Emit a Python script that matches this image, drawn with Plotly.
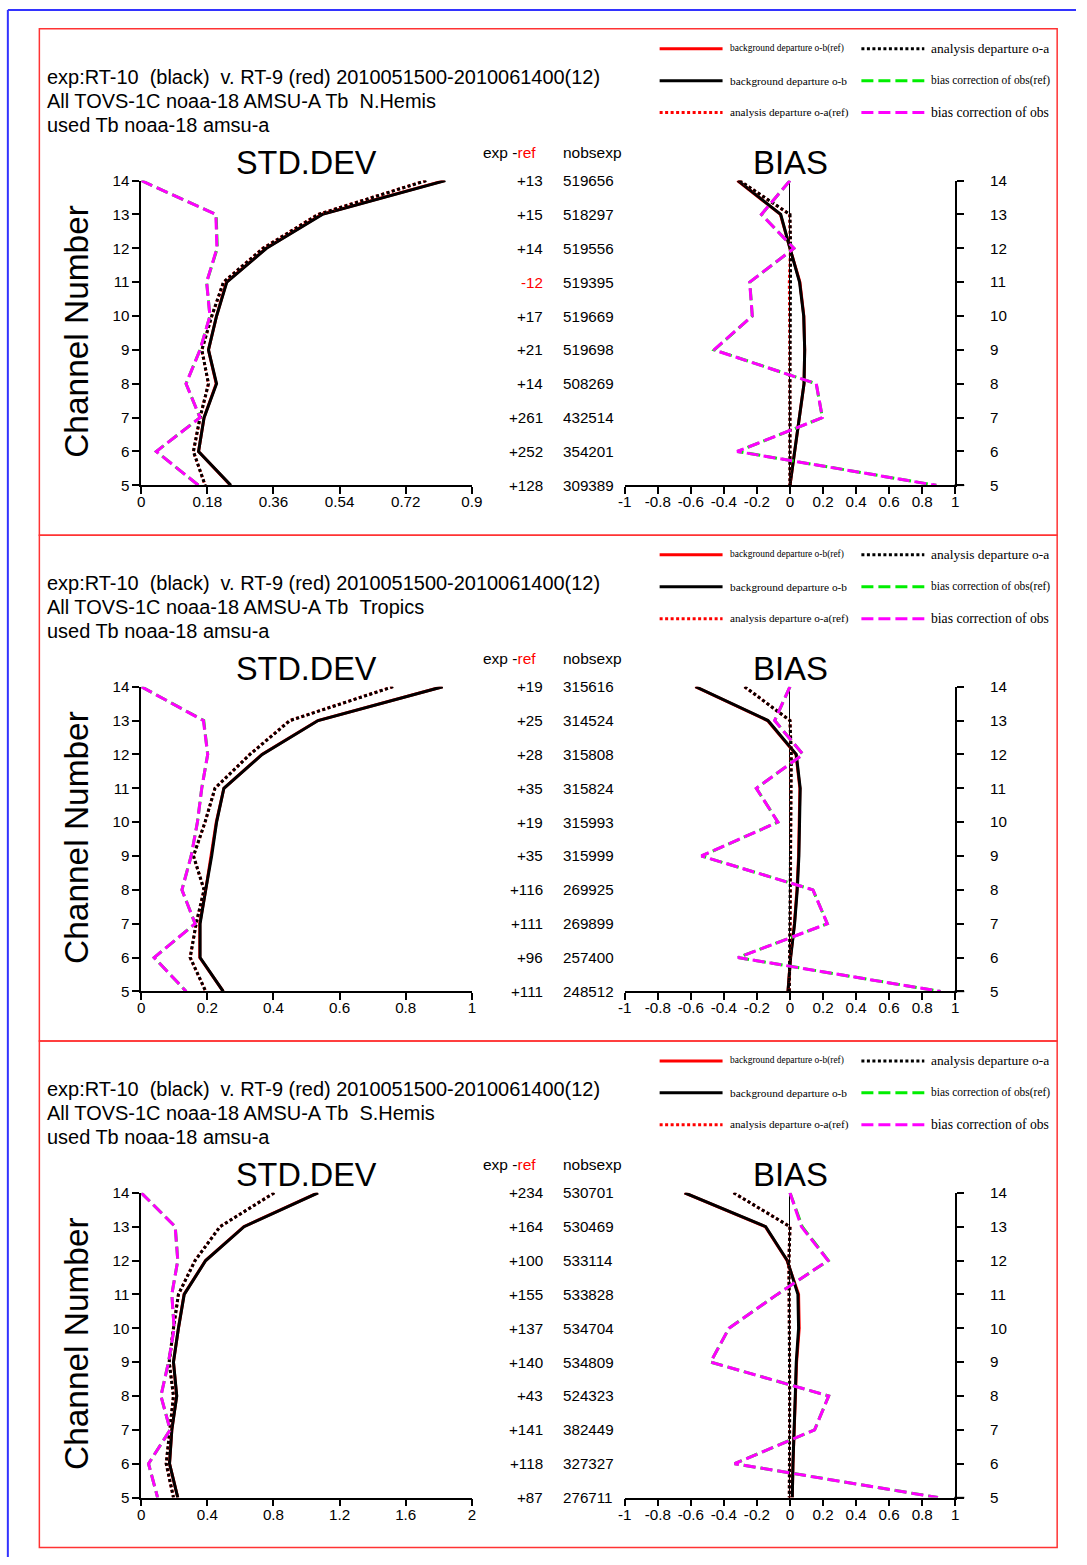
import plotly.graph_objects as go

# ---------------- data ----------------
channels = [14, 13, 12, 11, 10, 9, 8, 7, 6, 5]
region_names = ["N.Hemis", "Tropics", "S.Hemis"]

# N.Hemis
std_ob_nh = [0.828, 0.493, 0.341, 0.233, 0.205, 0.183, 0.205, 0.171, 0.156, 0.244]
std_ob_ref_nh = [0.826, 0.491, 0.340, 0.232, 0.205, 0.183, 0.204, 0.171, 0.156, 0.243]
std_oa_nh = [0.776, 0.482, 0.332, 0.224, 0.192, 0.165, 0.183, 0.160, 0.142, 0.174]
std_oa_ref_nh = [0.775, 0.481, 0.331, 0.224, 0.192, 0.165, 0.183, 0.160, 0.142, 0.174]
std_bc_nh = [0.0, 0.203, 0.206, 0.178, 0.187, 0.160, 0.122, 0.160, 0.041, 0.156]
std_bc_ref_nh = [0.0, 0.204, 0.207, 0.178, 0.187, 0.160, 0.122, 0.160, 0.041, 0.156]
bias_ob_nh = [-0.315, -0.056, 0.0, 0.058, 0.083, 0.089, 0.085, 0.058, 0.028, 0.0]
bias_ob_ref_nh = [-0.318, -0.058, 0.0, 0.060, 0.084, 0.089, 0.085, 0.058, 0.028, 0.0]
bias_oa_nh = [-0.305, 0.0, 0.004, 0.002, 0.0, 0.0, 0.0, 0.0, 0.0, 0.0]
bias_oa_ref_nh = [-0.306, -0.002, 0.003, -0.004, -0.002, 0.0, 0.0, 0.0, 0.0, 0.0]
bias_bc_nh = [0.0, -0.173, 0.024, -0.244, -0.228, -0.460, 0.159, 0.196, -0.320, 0.885]
bias_bc_ref_nh = [0.0, -0.172, 0.024, -0.243, -0.228, -0.458, 0.159, 0.196, -0.318, 0.885]

# Tropics
std_ob_tr = [0.912, 0.535, 0.366, 0.250, 0.228, 0.213, 0.195, 0.178, 0.178, 0.248]
std_ob_ref_tr = [0.911, 0.534, 0.365, 0.250, 0.227, 0.212, 0.195, 0.177, 0.177, 0.248]
std_oa_tr = [0.762, 0.450, 0.329, 0.223, 0.193, 0.158, 0.190, 0.166, 0.148, 0.195]
std_oa_ref_tr = [0.761, 0.449, 0.328, 0.223, 0.193, 0.158, 0.190, 0.166, 0.148, 0.195]
std_bc_tr = [0.0, 0.188, 0.201, 0.183, 0.170, 0.151, 0.123, 0.163, 0.039, 0.136]
std_bc_ref_tr = [0.0, 0.189, 0.201, 0.183, 0.170, 0.151, 0.123, 0.163, 0.039, 0.136]
bias_ob_tr = [-0.571, -0.133, 0.038, 0.062, 0.058, 0.054, 0.044, 0.028, 0.004, -0.012]
bias_ob_ref_tr = [-0.573, -0.136, 0.036, 0.060, 0.056, 0.052, 0.042, 0.027, 0.003, -0.012]
bias_oa_tr = [-0.274, 0.0, 0.008, 0.006, 0.006, 0.006, 0.004, 0.002, 0.0, -0.004]
bias_oa_ref_tr = [-0.275, 0.0, 0.007, 0.005, 0.005, 0.005, 0.003, 0.002, 0.0, -0.004]
bias_bc_tr = [0.0, -0.093, 0.079, -0.204, -0.073, -0.536, 0.139, 0.226, -0.315, 0.911]
bias_bc_ref_tr = [0.0, -0.092, 0.078, -0.203, -0.073, -0.535, 0.139, 0.226, -0.314, 0.911]

# S.Hemis
std_ob_sh = [1.070, 0.622, 0.390, 0.260, 0.225, 0.195, 0.215, 0.185, 0.171, 0.221]
std_ob_ref_sh = [1.068, 0.620, 0.389, 0.259, 0.225, 0.195, 0.214, 0.185, 0.171, 0.221]
std_oa_sh = [0.805, 0.477, 0.326, 0.225, 0.195, 0.169, 0.195, 0.175, 0.151, 0.195]
std_oa_ref_sh = [0.804, 0.476, 0.325, 0.225, 0.195, 0.169, 0.195, 0.175, 0.151, 0.195]
std_bc_sh = [0.0, 0.205, 0.221, 0.185, 0.199, 0.165, 0.119, 0.175, 0.044, 0.099]
std_bc_ref_sh = [0.0, 0.206, 0.221, 0.185, 0.199, 0.165, 0.119, 0.175, 0.044, 0.099]
bias_ob_sh = [-0.637, -0.147, -0.016, 0.048, 0.052, 0.038, 0.032, 0.024, 0.018, 0.014]
bias_ob_ref_sh = [-0.638, -0.149, -0.018, 0.052, 0.056, 0.040, 0.033, 0.024, 0.018, 0.014]
bias_oa_sh = [-0.341, 0.0, -0.006, -0.004, -0.002, -0.002, -0.002, -0.002, -0.004, -0.004]
bias_oa_ref_sh = [-0.342, 0.0, -0.007, -0.004, -0.002, -0.002, -0.002, -0.002, -0.004, -0.004]
bias_bc_sh = [0.0, 0.069, 0.230, -0.077, -0.369, -0.480, 0.234, 0.149, -0.335, 0.895]
bias_bc_ref_sh = [0.0, 0.074, 0.232, -0.077, -0.369, -0.480, 0.234, 0.149, -0.335, 0.895]

# table values (channel 14 -> 5)
diff_nh = ["+13", "+15", "+14", "-12", "+17", "+21", "+14", "+261", "+252", "+128"]
nobs_nh = ["519656", "518297", "519556", "519395", "519669", "519698", "508269", "432514", "354201", "309389"]
diff_tr = ["+19", "+25", "+28", "+35", "+19", "+35", "+116", "+111", "+96", "+111"]
nobs_tr = ["315616", "314524", "315808", "315824", "315993", "315999", "269925", "269899", "257400", "248512"]
diff_sh = ["+234", "+164", "+100", "+155", "+137", "+140", "+43", "+141", "+118", "+87"]
nobs_sh = ["530701", "530469", "533114", "533828", "534704", "534809", "524323", "382449", "327327", "276711"]

std_ticks_nh = [0, 0.18, 0.36, 0.54, 0.72, 0.9]
std_ticks_tr = [0, 0.2, 0.4, 0.6, 0.8, 1]
std_ticks_sh = [0, 0.4, 0.8, 1.2, 1.6, 2]
std_ticktext_nh = ["0", "0.18", "0.36", "0.54", "0.72", "0.9"]
std_ticktext_tr = ["0", "0.2", "0.4", "0.6", "0.8", "1"]
std_ticktext_sh = ["0", "0.4", "0.8", "1.2", "1.6", "2"]
bias_ticks = [-1, -0.8, -0.6, -0.4, -0.2, 0, 0.2, 0.4, 0.6, 0.8, 1]
bias_ticktext = ["-1", "-0.8", "-0.6", "-0.4", "-0.2", "0", "0.2", "0.4", "0.6", "0.8", "1"]

# ---------------- layout helpers ----------------
W, H = 1087, 1565
# mapping from target-picture pixels to figure paper coordinates
SX, OX, SY, OY = 0.9846, 6.6, 0.9899, 8.3
def px(x):
    return min(max(((x - OX) / SX) / W, 0.0), 1.0)
def py(y):
    return min(max(1 - ((y - OY) / SY) / H, 0.0), 1.0)
FS = 1 / 0.987
def fs(v):
    return v * FS

FONT = "Liberation Sans, Arial, Helvetica, sans-serif"
SERIF = "Liberation Serif, Times New Roman, serif"
RED = "#ff0000"
BLACK = "#000000"
GREEN = "#00ee00"
MAGENTA = "#ff00ff"
DOT = "3px,2.5px"
DASH = "12px,5px"

regions = [
    dict(std=[std_ob_ref_nh, std_ob_nh, std_oa_ref_nh, std_oa_nh, std_bc_ref_nh, std_bc_nh],
         bias=[bias_ob_ref_nh, bias_ob_nh, bias_oa_ref_nh, bias_oa_nh, bias_bc_ref_nh, bias_bc_nh],
         diff=diff_nh, nobs=nobs_nh, ticks=std_ticks_nh, ticktext=std_ticktext_nh),
    dict(std=[std_ob_ref_tr, std_ob_tr, std_oa_ref_tr, std_oa_tr, std_bc_ref_tr, std_bc_tr],
         bias=[bias_ob_ref_tr, bias_ob_tr, bias_oa_ref_tr, bias_oa_tr, bias_bc_ref_tr, bias_bc_tr],
         diff=diff_tr, nobs=nobs_tr, ticks=std_ticks_tr, ticktext=std_ticktext_tr),
    dict(std=[std_ob_ref_sh, std_ob_sh, std_oa_ref_sh, std_oa_sh, std_bc_ref_sh, std_bc_sh],
         bias=[bias_ob_ref_sh, bias_ob_sh, bias_oa_ref_sh, bias_oa_sh, bias_bc_ref_sh, bias_bc_sh],
         diff=diff_sh, nobs=nobs_sh, ticks=std_ticks_sh, ticktext=std_ticktext_sh),
]

styles = [
    dict(color=RED, dash="solid", width=3),
    dict(color=BLACK, dash="solid", width=3),
    dict(color=RED, dash=DOT, width=3),
    dict(color=BLACK, dash=DOT, width=3),
    dict(color=GREEN, dash=DASH, width=3),
    dict(color=MAGENTA, dash=DASH, width=3),
]
legend_items = [
    (0, 0, styles[0], "background departure o-b(ref)", 9.3),
    (0, 1, styles[1], "background departure o-b", 11.2),
    (0, 2, styles[2], "analysis departure o-a(ref)", 11.1),
    (1, 0, styles[3], "analysis departure o-a", 13.3),
    (1, 1, styles[4], "bias correction of obs(ref)", 11.3),
    (1, 2, styles[5], "bias correction of obs", 13.5),
]

fig = go.Figure()
layout = dict(width=W, height=H, margin=dict(l=0, r=0, t=0, b=0),
              paper_bgcolor="white", plot_bgcolor="rgba(0,0,0,0)",
              showlegend=False, font=dict(family=FONT, color="black"))
annotations = []
shapes = []

offsets = [0, 506.5, 1013]
axis_common = dict(showgrid=False, showline=True, linecolor="black", linewidth=1.5,
                   ticks="outside", ticklen=7, tickwidth=1.5, tickcolor="black",
                   tickfont=dict(size=fs(15), family=FONT, color="black"), fixedrange=True)

for k, reg in enumerate(regions):
    off = offsets[k]
    ns, nb = 2 * k + 1, 2 * k + 2
    ydom = [py(485 + off), py(180 + off)]
    layout[f"xaxis{ns}"] = dict(axis_common, domain=[px(141), px(472)],
                                range=[0, reg["ticks"][-1]], anchor=f"y{ns}", zeroline=False,
                                tickmode="array", tickvals=reg["ticks"], ticktext=reg["ticktext"],
                                ticklabelstandoff=-5)
    layout[f"yaxis{ns}"] = dict(axis_common, domain=ydom, range=[5, 14], anchor=f"x{ns}",
                                zeroline=False, tickmode="array", tickvals=list(range(5, 15)))
    layout[f"xaxis{nb}"] = dict(axis_common, domain=[px(625), px(956)], range=[-1, 1],
                                anchor=f"y{nb}", zeroline=True, zerolinecolor="black",
                                zerolinewidth=1.3, tickmode="array", tickvals=bias_ticks,
                                ticktext=bias_ticktext, ticklabelstandoff=-5)
    layout[f"yaxis{nb}"] = dict(axis_common, domain=ydom, range=[5, 14], anchor=f"x{nb}",
                                side="right", zeroline=False, tickmode="array",
                                tickvals=list(range(5, 15)), ticklabelstandoff=23)

    for vals, st in zip(reg["std"], styles):
        fig.add_trace(go.Scatter(x=vals, y=channels, mode="lines", line=st,
                                 xaxis=f"x{ns}", yaxis=f"y{ns}", hoverinfo="skip"))
    for vals, st in zip(reg["bias"], styles):
        fig.add_trace(go.Scatter(x=vals, y=channels, mode="lines", line=st,
                                 xaxis=f"x{nb}", yaxis=f"y{nb}", hoverinfo="skip"))

    # titles
    title_lines = [
        "exp:RT-10\u00a0\u00a0(black)\u00a0\u00a0v. RT-9 (red) 2010051500-2010061400(12)",
        f"All TOVS-1C noaa-18 AMSU-A Tb\u00a0\u00a0{region_names[k]}",
        "used Tb noaa-18 amsu-a",
    ]
    for i, t in enumerate(title_lines):
        annotations.append(dict(text=t, x=px(45), y=py(76 + 24 * i + off), xref="paper",
                                yref="paper", xanchor="left", yanchor="middle", showarrow=False,
                                font=dict(size=fs(19.7), family=FONT, color="black")))
    annotations.append(dict(text="STD.DEV", x=px(306), y=py(162 + off), xref="paper", yref="paper",
                            xanchor="center", yanchor="middle", showarrow=False,
                            font=dict(size=fs(32), family=FONT, color="black")))
    annotations.append(dict(text="BIAS", x=px(791), y=py(162 + off), xref="paper", yref="paper",
                            xanchor="center", yanchor="middle", showarrow=False,
                            font=dict(size=fs(32.5), family=FONT, color="black")))
    annotations.append(dict(text="Channel Number", x=px(76), y=py(331 + off), xref="paper",
                            yref="paper", xanchor="center", yanchor="middle", showarrow=False,
                            textangle=-90, font=dict(size=fs(33), family=FONT, color="black")))
    # table header
    annotations.append(dict(text="exp -<span style='color:red'>ref</span>", x=px(538),
                            y=py(152 + off), xref="paper", yref="paper", xanchor="right",
                            yanchor="middle", showarrow=False,
                            font=dict(size=fs(15.3), family=FONT, color="black")))
    annotations.append(dict(text="nobsexp", x=px(561), y=py(152 + off), xref="paper",
                            yref="paper", xanchor="left", yanchor="middle", showarrow=False,
                            font=dict(size=fs(15.3), family=FONT, color="black")))
    for ch, d, n in zip(channels, reg["diff"], reg["nobs"]):
        col = RED if d.startswith("-") else "black"
        annotations.append(dict(text=d, x=px(545), y=ch, xref="paper", yref=f"y{ns}",
                                xanchor="right", yanchor="middle", showarrow=False,
                                font=dict(size=fs(15), family=FONT, color=col)))
        annotations.append(dict(text=n, x=px(561), y=ch, xref="paper", yref=f"y{ns}",
                                xanchor="left", yanchor="middle", showarrow=False,
                                font=dict(size=fs(15), family=FONT, color="black")))
    # legend
    for col, row, st, label, size in legend_items:
        x0 = 660 if col == 0 else 862
        yy = 48 + 32 * row + off
        shapes.append(dict(type="line", xref="paper", yref="paper", x0=px(x0), x1=px(x0 + 63),
                           y0=py(yy), y1=py(yy), line=dict(color=st["color"], width=3,
                                                           dash=st["dash"])))
        annotations.append(dict(text=label, x=px(x0 + 68), y=py(yy), xref="paper", yref="paper",
                                xanchor="left", yanchor="middle", showarrow=False,
                                font=dict(size=fs(size), family=SERIF, color="black")))
    # bias x-axis line continues under the right-hand ticks
    shapes.append(dict(type="line", xref="paper", yref="paper", x0=px(955), x1=px(965),
                       y0=py(485 + off), y1=py(485 + off), line=dict(color="black", width=1.5)))

# red panel boxes
for top, bot in [(28, 535), (535, 1041), (1041, 1548)]:
    shapes.append(dict(type="rect", xref="paper", yref="paper", x0=px(39), x1=px(1058),
                       y0=py(bot), y1=py(top), line=dict(color="#ff3333", width=1.5)))
# blue outer frame (left & top visible)
shapes.append(dict(type="line", xref="paper", yref="paper", x0=0.0008, x1=0.0008,
                   y0=0.9994, y1=0, line=dict(color="#3333ff", width=2)))
shapes.append(dict(type="line", xref="paper", yref="paper", x0=0.0008, x1=1,
                   y0=0.9994, y1=0.9994, line=dict(color="#3333ff", width=2)))

layout["annotations"] = annotations
layout["shapes"] = shapes
fig.update_layout(**layout)
fig.write_html(
    "out.html",
    config={"displayModeBar": False, "responsive": False},
    post_script=("var s=document.createElement('style');"
                 "s.textContent='html,body{margin:0!important;padding:0!important;overflow:hidden!important;}';"
                 "document.head.appendChild(s);"
                 "var d=document.getElementById('{plot_id}');"
                 "d.style.position='fixed';d.style.left='0px';d.style.top='0px';"),
)
